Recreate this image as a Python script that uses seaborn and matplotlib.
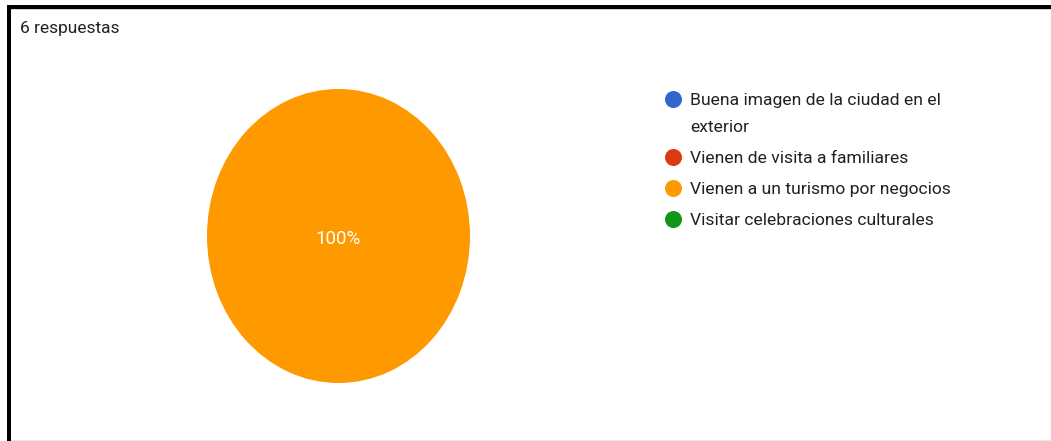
import matplotlib
matplotlib.use("Agg")
import matplotlib.pyplot as plt
from matplotlib.patches import Rectangle
import seaborn as sns

# Survey answers
categories = [
    "Buena imagen de la ciudad en el\nexterior",
    "Vienen de visita a familiares",
    "Vienen a un turismo por negocios",
    "Visitar celebraciones culturales",
]
counts = [0, 0, 6, 0]
colors = ["#3366cc", "#dc3912", "#ff9900", "#109618"]
header = "6 respuestas"

sns.set_theme(style="white")
plt.rcParams["font.family"] = ["Roboto", "DejaVu Sans"]

W, H = 1051, 441
fig = plt.figure(figsize=(W / 100, H / 100), dpi=100)
fig.patch.set_facecolor("white")

# Pie axes: stretched to an ellipse
ax = fig.add_axes([207 / W, (H - 383) / H, 263 / W, 294 / H])
nonzero = [(c, col) for c, col in zip(counts, colors) if c > 0]
ax.pie([c for c, _ in nonzero], colors=[col for _, col in nonzero],
       radius=1, startangle=90, counterclock=False,
       wedgeprops=dict(linewidth=0))
ax.set_aspect("auto")
ax.set_xlim(-1, 1)
ax.set_ylim(-1, 1)
ax.axis("off")

# A single full slice gets its percentage in the centre
total = sum(counts)
for c in counts:
    if c == total and total > 0:
        ax.text(0, -0.02, f"{100 * c / total:.0f}%", color="white",
                fontsize=13.5, ha="center", va="center")

# Overlay in pixel units for the legend, header and frame
ov = fig.add_axes([0, 0, 1, 1], zorder=3)
ov.set_xlim(0, W)
ov.set_ylim(H, 0)
ov.axis("off")

row_y = 99
line_h = 27
row_gap = 31
for label, col in zip(categories, colors):
    ov.scatter([673], [row_y], s=17 ** 2 * 0.52, color=col, linewidths=0)
    lines = label.split("\n")
    for i, ln in enumerate(lines):
        ov.text(690, row_y + i * line_h, ln, fontsize=12.6, color="#212121",
                ha="left", va="center_baseline")
    row_y += (len(lines) - 1) * line_h + row_gap

ov.text(20, 27, header, fontsize=12.5, color="#212121", ha="left",
        va="center_baseline")

# Frame lines around the card
ov.add_patch(Rectangle((7, 5), W - 7, 4, color="black", lw=0))
ov.add_patch(Rectangle((7, 5), 3.5, H - 5, color="black", lw=0))
ov.add_patch(Rectangle((10.5, 9), W, 1, color="#d0d0d0", lw=0))
ov.add_patch(Rectangle((10.5, H - 1), W, 1, color="#e6e6e6", lw=0))

fig.savefig("out.png", dpi=100, facecolor="white")
